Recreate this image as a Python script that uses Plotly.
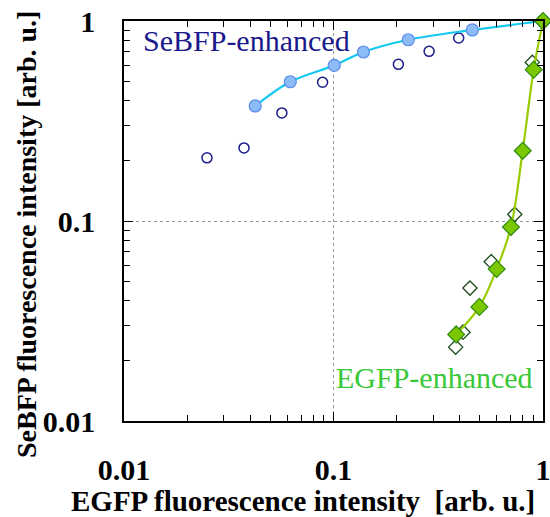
import plotly.graph_objects as go

# SeBFP-enhanced (filled circles, fitted line)
sebfp_enh_x = [0.0423, 0.0622, 0.1008, 0.139, 0.2275, 0.46, 1.0]
sebfp_enh_y = [0.376, 0.497, 0.600, 0.700, 0.806, 0.902, 1.0]
# SeBFP reference (open circles)
sebfp_ref_x = [0.0249, 0.0374, 0.0567, 0.0887, 0.204, 0.286, 0.396, 1.0]
sebfp_ref_y = [0.207, 0.232, 0.347, 0.494, 0.607, 0.705, 0.822, 1.0]
# EGFP-enhanced (filled diamonds, fitted line)
egfp_enh_x = [0.385, 0.497, 0.601, 0.703, 0.800, 0.903, 1.0]
egfp_enh_y = [0.0271, 0.0372, 0.0575, 0.0933, 0.2246, 0.571, 1.0]
# EGFP reference (open diamonds)
egfp_ref_x = [0.383, 0.415, 0.448, 0.566, 0.733, 0.889]
egfp_ref_y = [0.0234, 0.0278, 0.0462, 0.0626, 0.108, 0.621]

x_ticks = [0.01, 0.1, 1]
x_labels = ["0.01", "0.1", "1"]
y_ticks = [0.01, 0.1, 1]
y_labels = ["0.01", "0.1", "1"]
minor_ticks = [m * d for d in (0.01, 0.1) for m in range(2, 10)]

FONT = "Liberation Serif"

fig = go.Figure()
fig.add_trace(go.Scatter(x=sebfp_ref_x, y=sebfp_ref_y, mode="markers",
                         marker=dict(symbol="circle-open", size=10, color="#1c1c8c",
                                     line=dict(width=1.5, color="#1c1c8c")),
                         showlegend=False, cliponaxis=False))
fig.add_trace(go.Scatter(x=sebfp_enh_x, y=sebfp_enh_y, mode="lines+markers",
                         line=dict(color="#14c8f0", width=2.2, shape="spline"),
                         marker=dict(symbol="circle", size=12, color="#8cbcf8",
                                     line=dict(width=1.2, color="#5a8ce8")),
                         showlegend=False, cliponaxis=False))
fig.add_trace(go.Scatter(x=egfp_ref_x, y=egfp_ref_y, mode="markers",
                         marker=dict(symbol="diamond-open", size=11, color="#1e4a1e",
                                     line=dict(width=1.3, color="#1e4a1e")),
                         showlegend=False, cliponaxis=False))
fig.add_trace(go.Scatter(x=egfp_enh_x, y=egfp_enh_y, mode="lines+markers",
                         line=dict(color="#99cc00", width=2.2, shape="spline"),
                         marker=dict(symbol="diamond", size=13, color="#7cc800",
                                     line=dict(width=1.2, color="#2e8a10")),
                         showlegend=False, cliponaxis=False))

fig.add_annotation(x=-1.917, y=-0.095, xref="x", yref="y",
                   text="SeBFP-enhanced", showarrow=False, xanchor="left", yanchor="middle",
                   font=dict(family=FONT, size=30, color="#1a1a8c"))
fig.add_annotation(x=-0.036, y=-1.78, xref="x", yref="y",
                   text="EGFP-enhanced", showarrow=False, xanchor="right", yanchor="middle",
                   font=dict(family=FONT, size=30, color="#38c838"))

# axis titles
fig.add_annotation(x=0.427, y=-0.2, xref="paper", yref="paper",
                   text="<b>EGFP fluorescence intensity  [arb. u.]</b>", showarrow=False,
                   xanchor="center", yanchor="middle",
                   font=dict(family=FONT, size=29, color="black"))
fig.add_annotation(x=-0.2315, y=0.465, xref="paper", yref="paper", textangle=-90,
                   text="<b>SeBFP fluorescence intensity [arb. u.]</b>", showarrow=False,
                   xanchor="center", yanchor="middle",
                   font=dict(family=FONT, size=28, color="black"))

axis_common = dict(
    type="log", showline=True, linecolor="black", linewidth=1.5, mirror="ticks",
    ticks="inside", ticklen=9, tickwidth=1.2, tickcolor="black",
    showgrid=True, gridcolor="#999999", griddash="dot", gridwidth=1,
    zeroline=False, automargin=False, range=[-2, 0],
    minor=dict(ticks="inside", ticklen=6, tickwidth=1, tickcolor="black",
               showgrid=False, tickvals=minor_ticks),
    tickfont=dict(family=FONT, size=30, color="black", weight="bold"),
    ticklabeloverflow="allow",
)

fig.update_xaxes(**axis_common, tickvals=x_ticks, ticktext=x_labels, ticklabelstandoff=21)
fig.update_yaxes(**axis_common, tickvals=y_ticks, ticktext=y_labels, ticklabelstandoff=21)

fig.update_layout(
    width=550, height=517,
    margin=dict(l=124, r=7, t=21, b=96),
    plot_bgcolor="white", paper_bgcolor="white",
    showlegend=False,
)

fig.write_html("out.html", config={"displayModeBar": False},
               post_script="document.body.style.margin='0';document.body.style.overflow='hidden';")
